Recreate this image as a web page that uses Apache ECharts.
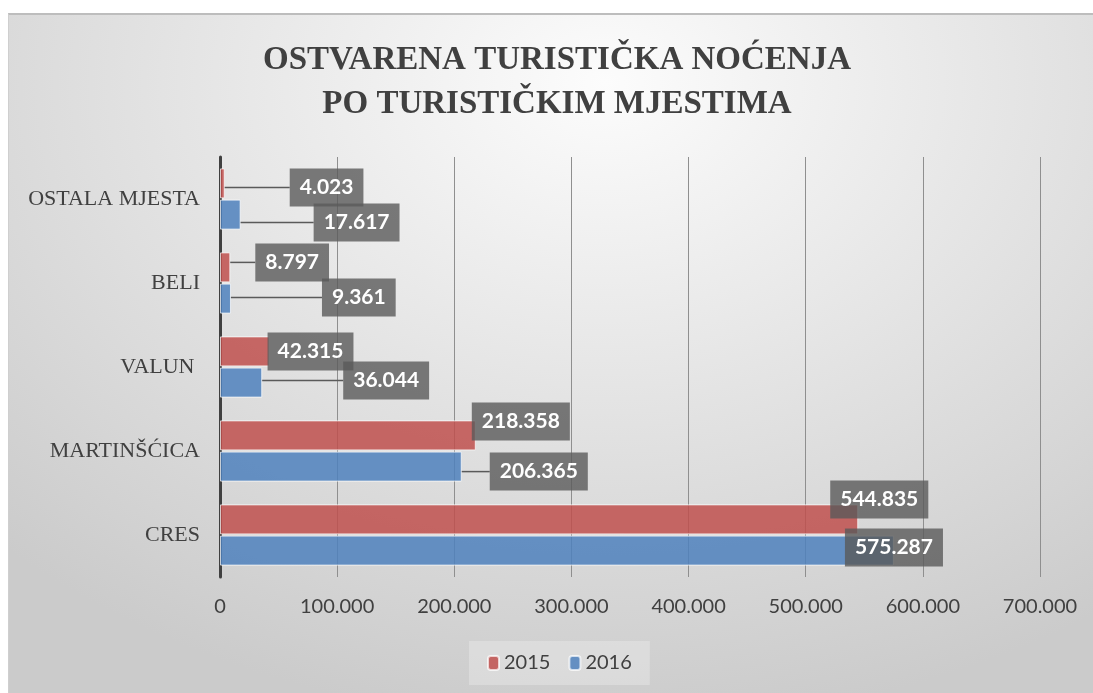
<!DOCTYPE html>
<html>
<head>
<meta charset="utf-8">
<script src="https://cdn.jsdelivr.net/npm/echarts@6/dist/echarts.min.js"></script>
<style>
  html, body { margin: 0; padding: 0; background: #fff; }
  #chart {
    position: absolute; left: 8px; top: 13px; width: 1085px; height: 680px;
    box-sizing: border-box;
    border-top: 2px solid #bdbdbd; border-left: 1px solid #cfcfcf;
    background: radial-gradient(ellipse 80% 95% at 55% 10%, #fcfcfc 0%, #e6e6e6 45%, #cbcbcb 100%);
  }
</style>
</head>
<body>
<div id="chart"></div>
<script>
// data
const categories = ['CRES', 'MARTINŠĆICA', 'VALUN ', 'BELI', 'OSTALA MJESTA'];
const seriesNames = ['2015', '2016'];
const values2015 = [544835, 218358, 42315, 8797, 4023];
const values2016 = [575287, 206365, 36044, 9361, 17617];
const xTicks = { min: 0, max: 700000, interval: 100000 };

// label callout offsets (px), same order as categories
const labelDx = [
    [-28, -4, -2, 25, 65],
    [-49, 28, 81, 91, 73],
];
const labelDy = [
    [-20, -14, 0, -5, 4],
    [-3, 5, -2, -1, 8],
];

const fmt = (v) => String(v).replace(/\B(?=(\d{3})+(?!\d))/g, '.');

const buildData = (vals, s) =>
    vals.map((v, i) => ({
        value: v,
        labelLine: { show: labelDx[s][i] > 10 },
    }));

const barLabel = {
    show: true,
    position: 'right',
    distance: 0,
    formatter: (p) => fmt(p.value),
    color: '#fff',
    fontFamily: 'Lato',
    fontWeight: 'bold',
    fontSize: 21,
    lineHeight: 22,
    backgroundColor: 'rgba(90,90,90,0.8)',
    padding: [8, 10],
};

const chart = echarts.init(document.getElementById('chart'));
const option = {
    title: {
        text: 'OSTVARENA TURISTIČKA NOĆENJA\nPO TURISTIČKIM MJESTIMA',
        left: 543,
        top: 18,
        textAlign: 'center',
        textStyle: {
            fontFamily: 'Liberation Serif',
            fontWeight: 'bold',
            fontSize: 33,
            lineHeight: 44,
            color: '#404040',
        },
    },
    legend: {
        data: seriesNames,
        left: 460,
        top: 626,
        padding: [12, 18],
        itemGap: 18,
        itemWidth: 11,
        itemHeight: 14,
        backgroundColor: 'rgba(255,255,255,0.25)',
        textStyle: { fontFamily: 'Lato', fontSize: 20, color: '#404040' },
    },
    grid: { left: 211, right: 53, top: 142, bottom: 116 },
    xAxis: {
        type: 'value',
        min: xTicks.min,
        max: xTicks.max,
        interval: xTicks.interval,
        axisLine: { show: false },
        axisTick: { show: false },
        axisLabel: {
            formatter: fmt,
            margin: 20,
            fontFamily: 'Lato',
            fontSize: 20,
            color: '#404040',
        },
        splitLine: { lineStyle: { color: '#8f8f8f', width: 1 } },
    },
    yAxis: {
        type: 'category',
        data: categories,
        axisLine: { lineStyle: { color: '#404040', width: 3 } },
        axisTick: { show: false },
        axisLabel: {
            margin: 20,
            fontFamily: 'Liberation Serif',
            fontSize: 22,
            color: '#404040',
        },
    },
    series: [
        {
            name: seriesNames[0],
            type: 'bar',
            data: buildData(values2015, 0),
            barWidth: 30,
            barGap: '4%',
            itemStyle: { color: 'rgba(192,80,77,0.85)', borderColor: 'rgba(255,255,255,0.7)', borderWidth: 1 },
            label: barLabel,
            labelLine: { lineStyle: { color: '#5a5a5a', width: 1.5 } },
            labelLayout: (p) => ({ dx: labelDx[0][p.dataIndex], dy: labelDy[0][p.dataIndex] }),
        },
        {
            name: seriesNames[1],
            type: 'bar',
            data: buildData(values2016, 1),
            barWidth: 30,
            itemStyle: { color: 'rgba(79,129,189,0.85)', borderColor: 'rgba(255,255,255,0.7)', borderWidth: 1 },
            label: barLabel,
            labelLine: { lineStyle: { color: '#5a5a5a', width: 1.5 } },
            labelLayout: (p) => ({ dx: labelDx[1][p.dataIndex], dy: labelDy[1][p.dataIndex] }),
        },
    ],
};
chart.setOption(option);
</script>
</body>
</html>
